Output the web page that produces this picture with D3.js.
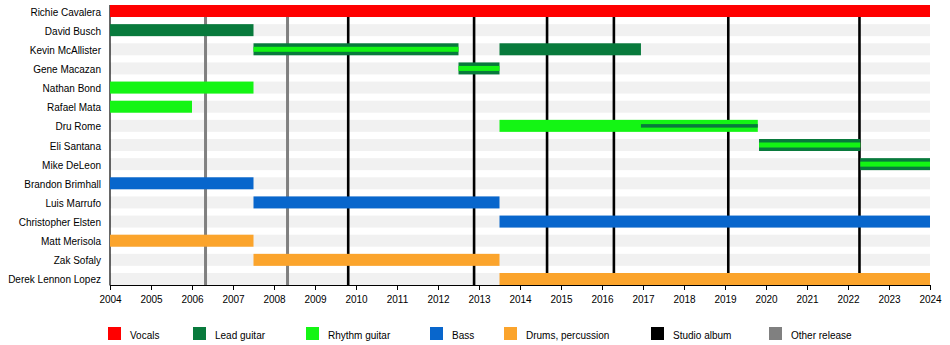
<!DOCTYPE html>
<html><head><meta charset="utf-8">
<script src="https://cdn.jsdelivr.net/npm/d3@7/dist/d3.min.js"></script>
<style>
html,body{margin:0;padding:0;background:#fff;}
text{font-family:"Liberation Sans",Arial,sans-serif;font-size:10px;fill:#000;}
</style></head>
<body><svg id="c" width="950" height="345"></svg>
<script>
const members = ["Richie Cavalera","David Busch","Kevin McAllister","Gene Macazan","Nathan Bond","Rafael Mata","Dru Rome","Eli Santana","Mike DeLeon","Brandon Brimhall","Luis Marrufo","Christopher Elsten","Matt Merisola","Zak Sofaly","Derek Lennon Lopez"];
const roles = ["Vocals","Lead guitar","Rhythm guitar","Bass","Drums, percussion"];
const roleColors = ["#ff0000","#087a3c","#14f514","#0866cc","#fba42c"];
// main bars: [member, role, from, to]
const periods = [
  ["Richie Cavalera","Vocals",2004,2024],
  ["David Busch","Lead guitar",2004,2007.5],
  ["Kevin McAllister","Lead guitar",2007.5,2012.5],
  ["Kevin McAllister","Lead guitar",2013.5,2016.95],
  ["Gene Macazan","Lead guitar",2012.5,2013.5],
  ["Nathan Bond","Rhythm guitar",2004,2007.5],
  ["Rafael Mata","Rhythm guitar",2004,2006],
  ["Dru Rome","Rhythm guitar",2013.5,2019.8],
  ["Eli Santana","Lead guitar",2019.83,2022.3],
  ["Mike DeLeon","Lead guitar",2022.3,2024],
  ["Brandon Brimhall","Bass",2004,2007.5],
  ["Luis Marrufo","Bass",2007.5,2013.5],
  ["Christopher Elsten","Bass",2013.5,2024],
  ["Matt Merisola","Drums, percussion",2004,2007.5],
  ["Zak Sofaly","Drums, percussion",2007.5,2013.5],
  ["Derek Lennon Lopez","Drums, percussion",2013.5,2024]
];
// secondary role stripes: [member, role, from, to]
const stripes = [
  ["Kevin McAllister","Rhythm guitar",2007.5,2012.5],
  ["Gene Macazan","Rhythm guitar",2012.5,2013.5],
  ["Dru Rome","Lead guitar",2016.95,2019.8],
  ["Eli Santana","Rhythm guitar",2019.83,2022.3],
  ["Mike DeLeon","Rhythm guitar",2022.3,2024]
];
const studioAlbums = [2009.81,2012.88,2014.66,2016.29,2019.08,2022.28];
const otherReleases = [2006.33,2008.33];
const yearTicks = d3.range(2004,2025);
const legendItems = ["Vocals","Lead guitar","Rhythm guitar","Bass","Drums, percussion","Studio album","Other release"];
const legendColors = ["#ff0000","#087a3c","#14f514","#0866cc","#fba42c","#000000","#808080"];
const legendX = [108,193,306,430,504,651,769];

const svg = d3.select("#c");
const x = d3.scaleLinear().domain([2004,2024]).range([110,930]);
const y = d3.scaleBand().domain(members).range([5,285]).paddingInner(0.373).paddingOuter(0);
const bh = y.bandwidth();
const color = d3.scaleOrdinal().domain(roles).range(roleColors);

// background bands
svg.append("g").selectAll("rect").data(members).join("rect")
  .attr("x",x(2004)).attr("width",x(2024)-x(2004))
  .attr("y",d=>y(d)).attr("height",bh).attr("fill","#f1f1f1");

// release lines
svg.append("g").selectAll("line").data(otherReleases).join("line")
  .attr("x1",d=>x(d)).attr("x2",d=>x(d)).attr("y1",5).attr("y2",285)
  .attr("stroke","#808080").attr("stroke-width",3);
svg.append("g").selectAll("line").data(studioAlbums).join("line")
  .attr("x1",d=>x(d)).attr("x2",d=>x(d)).attr("y1",5).attr("y2",285)
  .attr("stroke","#000").attr("stroke-width",2.6);

// y axis line
svg.append("line").attr("x1",x(2004)).attr("x2",x(2004)).attr("y1",5).attr("y2",285.5)
  .attr("stroke","#000").attr("stroke-width",1.2);

// bars
svg.append("g").selectAll("rect").data(periods).join("rect")
  .attr("x",d=>x(d[2])).attr("width",d=>x(d[3])-x(d[2]))
  .attr("y",d=>y(d[0])).attr("height",bh).attr("fill",d=>color(d[1]));
// stripes
const sh = d => d[1]==="Lead guitar" ? 3.5 : 5;
svg.append("g").selectAll("rect").data(stripes).join("rect")
  .attr("x",d=>x(d[2])).attr("width",d=>x(d[3])-x(d[2]))
  .attr("y",d=>y(d[0])+bh/2-sh(d)/2).attr("height",sh).attr("fill",d=>color(d[1]));

// member labels
svg.append("g").selectAll("text").data(members).join("text")
  .attr("x",101).attr("y",d=>y(d)+bh/2+1).attr("text-anchor","end")
  .attr("dominant-baseline","central").text(d=>d);

// x axis
const xa = svg.append("g").attr("transform","translate(0,285)")
  .call(d3.axisBottom(x).tickValues(yearTicks).tickFormat(d3.format("d")).tickSize(5).tickSizeOuter(0));
xa.select(".domain").attr("stroke","#000").attr("stroke-width",1.2);
xa.selectAll(".tick line").attr("stroke","#000");
xa.selectAll(".tick text").attr("font-size",10).attr("font-family","Liberation Sans, Arial, sans-serif").attr("dy","0.55em").attr("y",12);

// legend
const lg = svg.append("g").selectAll("g").data(legendItems).join("g")
  .attr("transform",(d,i)=>`translate(${legendX[i]},327)`);
lg.append("rect").attr("width",13).attr("height",13).attr("fill",(d,i)=>legendColors[i]);
lg.append("text").attr("x",22).attr("y",8).attr("dominant-baseline","central").text(d=>d);
</script></body></html>
